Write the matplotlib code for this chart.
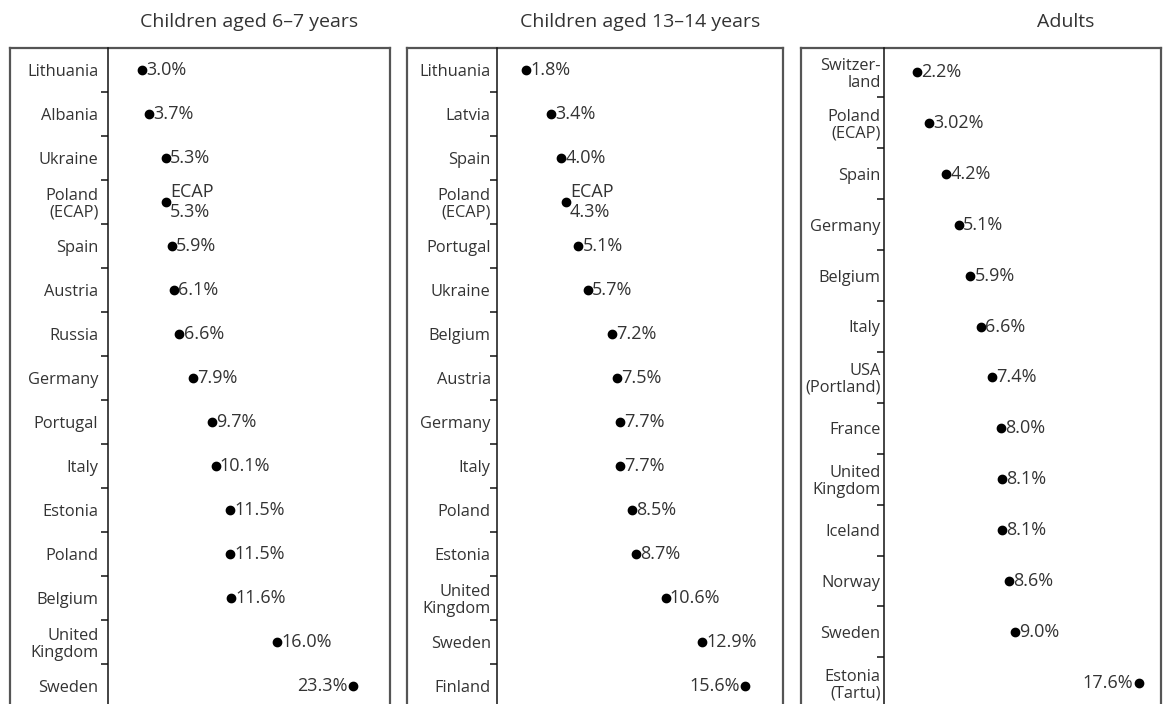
import matplotlib
matplotlib.use("Agg")
import matplotlib.pyplot as plt

plt.rcParams['font.family'] = ['Open Sans', 'DejaVu Sans']

# data
kids67_labels = ["Lithuania", "Albania", "Ukraine", "Poland\n(ECAP)", "Spain", "Austria", "Russia",
                 "Germany", "Portugal", "Italy", "Estonia", "Poland", "Belgium",
                 "United\nKingdom", "Sweden"]
kids67_values = [3.0, 3.7, 5.3, 5.3, 5.9, 6.1, 6.6, 7.9, 9.7, 10.1, 11.5, 11.5, 11.6, 16.0, 23.3]
kids67_texts = ["3.0%", "3.7%", "5.3%", "ECAP\n5.3%", "5.9%", "6.1%", "6.6%", "7.9%", "9.7%",
                "10.1%", "11.5%", "11.5%", "11.6%", "16.0%", "23.3%"]

kids1314_labels = ["Lithuania", "Latvia", "Spain", "Poland\n(ECAP)", "Portugal", "Ukraine", "Belgium",
                   "Austria", "Germany", "Italy", "Poland", "Estonia", "United\nKingdom",
                   "Sweden", "Finland"]
kids1314_values = [1.8, 3.4, 4.0, 4.3, 5.1, 5.7, 7.2, 7.5, 7.7, 7.7, 8.5, 8.7, 10.6, 12.9, 15.6]
kids1314_texts = ["1.8%", "3.4%", "4.0%", "ECAP\n4.3%", "5.1%", "5.7%", "7.2%", "7.5%", "7.7%",
                  "7.7%", "8.5%", "8.7%", "10.6%", "12.9%", "15.6%"]

adults_labels = ["Switzer-\nland", "Poland\n(ECAP)", "Spain", "Germany", "Belgium", "Italy",
                 "USA\n(Portland)", "France", "United\nKingdom", "Iceland", "Norway", "Sweden",
                 "Estonia\n(Tartu)"]
adults_values = [2.2, 3.02, 4.2, 5.1, 5.9, 6.6, 7.4, 8.0, 8.1, 8.1, 8.6, 9.0, 17.6]
adults_texts = ["2.2%", "3.02%", "4.2%", "5.1%", "5.9%", "6.6%", "7.4%", "8.0%", "8.1%",
                "8.1%", "8.6%", "9.0%", "17.6%"]

titles = ["Children aged 6\u20137 years", "Children aged 13\u201314 years", "Adults"]

W, H = 1163, 704
fig = plt.figure(figsize=(W / 100, H / 100), dpi=100)

# panel geometry in pixels: box left, axis x, box right, first row y, row step, zero x, px per %
panels = [
    dict(box_l=10, ax_x=108, box_r=390, y0=70, dy=44, x0=110.8, k=10.39, pad=7, title_x=249,
         labels=kids67_labels, values=kids67_values, texts=kids67_texts),
    dict(box_l=407, ax_x=497, box_r=783, y0=70, dy=44, x0=497.5, k=15.87, pad=4.5, title_x=640,
         labels=kids1314_labels, values=kids1314_values, texts=kids1314_texts),
    dict(box_l=801, ax_x=884, box_r=1161, y0=72, dy=50.9, x0=885.5, k=14.4, pad=2.5, title_x=1066,
         labels=adults_labels, values=adults_values, texts=adults_texts),
]
top = 48
txt_col = "#333333"

for p, title in zip(panels, titles):
    # outer box
    bx = fig.add_axes([p['box_l'] / W, -0.05, (p['box_r'] - p['box_l']) / W, 1.05 - top / H])
    bx.set_xticks([])
    bx.set_yticks([])
    for s in bx.spines.values():
        s.set_color("#555555")
        s.set_linewidth(1.6)
    bx.patch.set_alpha(0)

    # data axes
    ax = fig.add_axes([p['ax_x'] / W, 0, (p['box_r'] - p['ax_x']) / W, 1 - top / H])
    ax.patch.set_alpha(0)
    n = len(p['labels'])
    ax.set_ylim((H - p['y0']) / p['dy'], (top - p['y0']) / p['dy'])
    ax.set_xlim((p['ax_x'] - p['x0']) / p['k'], (p['box_r'] - p['x0']) / p['k'])
    for s in ['top', 'right', 'bottom']:
        ax.spines[s].set_visible(False)
    ax.spines['left'].set_color("#111111")
    ax.spines['left'].set_linewidth(1.1)
    ax.set_xticks([])
    ax.set_yticks(range(n))
    ax.set_yticklabels(p['labels'], fontsize=11.8, color=txt_col, linespacing=1.05)
    ax.tick_params(axis='y', which='major', length=0, pad=p['pad'])
    ax.set_yticks([i + 0.5 for i in range(n - 1)], minor=True)
    ax.tick_params(axis='y', which='minor', length=5, width=1.1, color="#111111", direction='out')

    ax.plot(p['values'], range(n), 'o', color="black", ms=6, clip_on=False)
    vmax = max(p['values'])
    for i, (v, t) in enumerate(zip(p['values'], p['texts'])):
        if i == n - 1 and v == vmax:
            ax.annotate(t, (v, i), xytext=(-4, 0), textcoords='offset points',
                        ha='right', va='center', fontsize=13, color=txt_col)
        else:
            ax.annotate(t, (v, i), xytext=(3, 0), textcoords='offset points',
                        ha='left', va='center', fontsize=13, color=txt_col, linespacing=1.1)

    fig.text(p['title_x'] / W, 1 - 22 / H, title, ha='center', va='center',
             fontsize=14, color=txt_col)

fig.savefig("out.png", dpi=100)
